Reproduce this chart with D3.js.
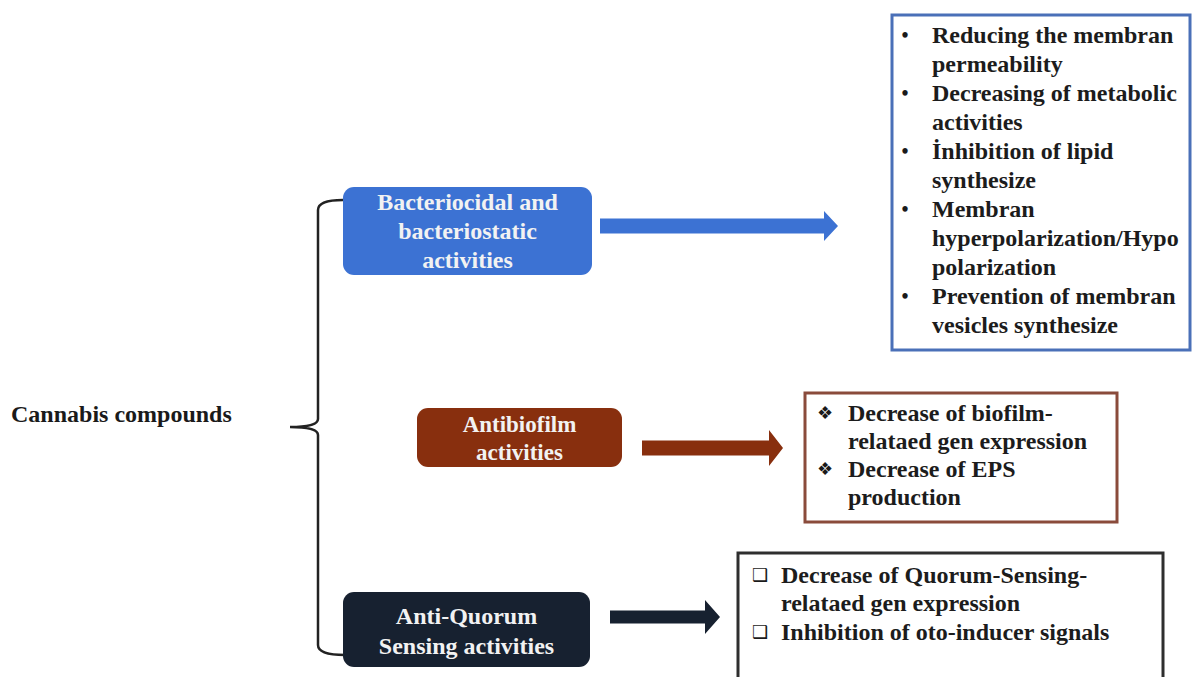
<!DOCTYPE html>
<html>
<head>
<meta charset="utf-8">
<script src="https://cdn.jsdelivr.net/npm/d3@7"></script>
<style>
  body { margin: 0; background: #fff; }
  svg { display: block; }
</style>
</head>
<body>
<div id="chart"></div>
<script>
// diagram content
const rootLabel = "Cannabis compounds";
const categories = [
  ["Bacteriocidal and", "bacteriostatic", "activities"],
  ["Antibiofilm", "activities"],
  ["Anti-Quorum", "Sensing activities"]
];
const categoryColors = ["#3c72d3", "#882f0e", "#172130"];
const effectBullets = ["•", "❖", "❑"];
const effectBorders = ["#4a70b8", "#8a4b3b", "#2e2e2e"];
const effects = [
  [["Reducing the membran", "permeability"],
   ["Decreasing of metabolic", "activities"],
   ["İnhibition of lipid", "synthesize"],
   ["Membran", "hyperpolarization/Hypo", "polarization"],
   ["Prevention of membran", "vesicles synthesize"]],
  [["Decrease of biofilm-", "relataed gen expression"],
   ["Decrease of EPS", "production"]],
  [["Decrease of Quorum-Sensing-", "relataed gen expression"],
   ["Inhibition of oto-inducer signals"]]
];

// layout (positions only)
const width = 1192, height = 677;
const font = "'Liberation Serif', 'Times New Roman', serif";
const catBoxes = [
  {x: 343, y: 187, w: 249, h: 88, lh: 29, fs: 24, off: 0},
  {x: 417, y: 408, w: 205, h: 59, lh: 28, fs: 23, off: 1},
  {x: 343, y: 592, w: 247, h: 75, lh: 30, fs: 24, off: 2}
];
const effBoxes = [
  {x: 892, y: 15, w: 298, h: 335, top: 35, lh: 29, bx: 905, tx: 932},
  {x: 805, y: 393, w: 312, h: 129, top: 413, lh: 28, bx: 825, tx: 848},
  {x: 738, y: 553, w: 425, h: 140, top: 575, lh: 28.5, bx: 760, tx: 781}
];
const arrows = [
  {x0: 600, x1: 838, y: 226, t: 15, hw: 15, hh: 14},
  {x0: 642, x1: 783, y: 448, t: 15, hw: 18, hh: 14},
  {x0: 610, x1: 720, y: 617, t: 13, hw: 17, hh: 15}
];

const svg = d3.select("#chart").append("svg")
  .attr("width", width).attr("height", height);

// root label
svg.append("text")
  .attr("x", 11).attr("y", 414).attr("dy", "0.35em")
  .style("font-family", font).style("font-weight", "bold")
  .style("font-size", "24px").style("fill", "#1a1a1a")
  .text(rootLabel);

// curly bracket
const bx = 318, cy = 427;
const bracket = d3.path();
bracket.moveTo(catBoxes[0].x, 200);
bracket.quadraticCurveTo(bx, 200, bx, 210);
bracket.lineTo(bx, cy - 8);
bracket.quadraticCurveTo(bx, cy, 290, cy);
bracket.quadraticCurveTo(bx, cy, bx, cy + 8);
bracket.lineTo(bx, 645);
bracket.quadraticCurveTo(bx, 655, catBoxes[2].x + 2, 655);
svg.append("path").attr("d", bracket.toString())
  .attr("fill", "none").attr("stroke", "#222").attr("stroke-width", 2.5);

// category boxes
categories.forEach((lines, i) => {
  const b = catBoxes[i];
  const g = svg.append("g");
  g.append("rect")
    .attr("x", b.x).attr("y", b.y).attr("width", b.w).attr("height", b.h)
    .attr("rx", 11).attr("fill", categoryColors[i]);
  const cyb = b.y + b.h / 2 - (lines.length - 1) * b.lh / 2 + b.off;
  g.selectAll("text").data(lines).join("text")
    .attr("x", b.x + b.w / 2)
    .attr("y", (d, j) => cyb + j * b.lh)
    .attr("dy", "0.33em")
    .attr("text-anchor", "middle")
    .style("font-family", font).style("font-weight", "bold")
    .style("font-size", b.fs + "px").style("fill", "#f2f2f2")
    .text(d => d);
});

// arrows
arrows.forEach((a, i) => {
  const p = d3.path();
  const hx = a.x1 - a.hh;
  p.moveTo(a.x0, a.y - a.t / 2);
  p.lineTo(hx, a.y - a.t / 2);
  p.lineTo(hx, a.y - a.hw);
  p.lineTo(a.x1, a.y);
  p.lineTo(hx, a.y + a.hw);
  p.lineTo(hx, a.y + a.t / 2);
  p.lineTo(a.x0, a.y + a.t / 2);
  p.closePath();
  svg.append("path").attr("d", p.toString()).attr("fill", categoryColors[i]);
});

// effect boxes
effects.forEach((items, i) => {
  const b = effBoxes[i];
  const g = svg.append("g");
  g.append("rect")
    .attr("x", b.x).attr("y", b.y).attr("width", b.w).attr("height", b.h)
    .attr("fill", "#fff").attr("stroke", effectBorders[i]).attr("stroke-width", 3);
  let row = 0;
  items.forEach(lines => {
    const y0 = b.top + row * b.lh;
    g.append("text")
      .attr("x", b.bx).attr("y", y0).attr("dy", "0.35em")
      .attr("text-anchor", "middle")
      .style("font-family", i === 0 ? font : "'DejaVu Sans', sans-serif")
      .style("font-size", i === 0 ? "20px" : "18px")
      .style("font-weight", "bold")
      .style("fill", "#1a1a1a")
      .text(effectBullets[i]);
    lines.forEach((line, j) => {
      g.append("text")
        .attr("x", b.tx).attr("y", b.top + (row + j) * b.lh).attr("dy", "0.33em")
        .style("font-family", font).style("font-weight", "bold")
        .style("font-size", "24px").style("fill", "#1c1c1c")
        .text(line);
    });
    row += lines.length;
  });
});
</script>
</body>
</html>
